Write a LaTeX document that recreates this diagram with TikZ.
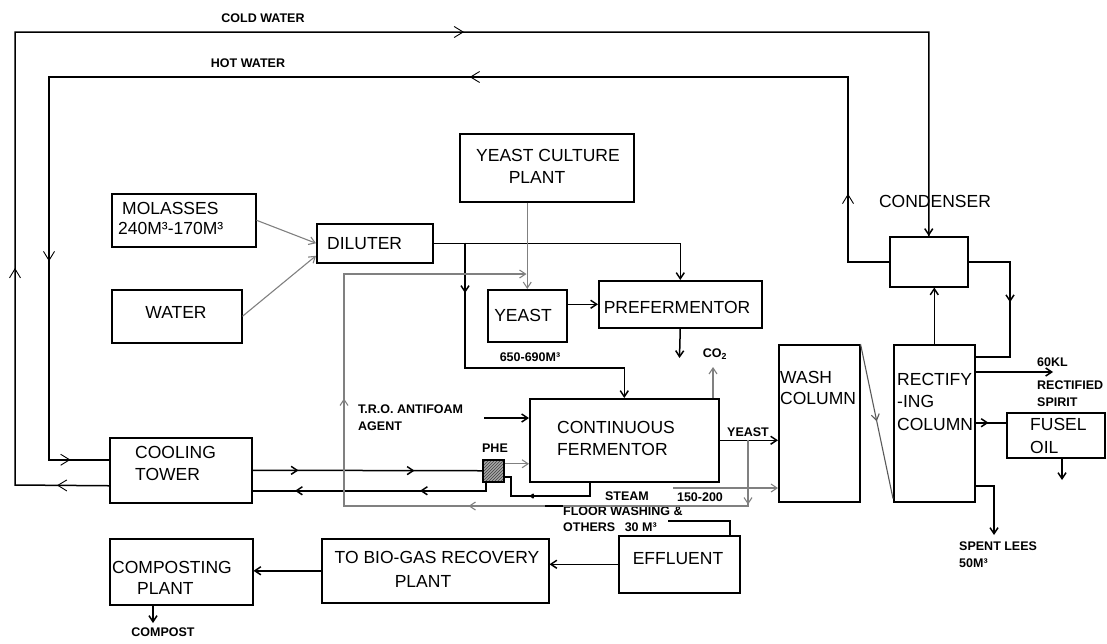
\documentclass[tikz,border=0pt]{standalone}
\usepackage{fontspec}
\setmainfont{Liberation Sans}
\usetikzlibrary{arrows.meta,decorations.markings,patterns,calc}
\begin{document}
\begin{tikzpicture}[x=1pt,y=-1pt,
  >={Straight Barb[length=6pt,width=8pt]},
  box/.style={draw=black,line width=1.5pt,inner sep=0pt,anchor=north west,fill=white},
  lb/.style={font=\fontsize{17.5}{21.5}\selectfont,inner sep=0pt,align=left,text=black},
  sm/.style={font=\fontsize{12.5}{16.5}\selectfont\bfseries,inner sep=0pt,align=left,text=black},
  blk/.style={draw=black,line width=1.5pt},
  gry/.style={draw=black!50,line width=1.1pt},
  mk/.style={postaction={decorate,decoration={markings,mark=at position #1 with {\arrow{>}}}}},
  mks/.style={postaction={decorate,decoration={markings,mark=at position #1 with {\arrow{Straight Barb[length=3pt,width=4pt]}}}}},
  mkb/.style={postaction={decorate,decoration={markings,mark=at position #1 with {\arrow{Straight Barb[length=9pt,width=11pt,line width=0.9pt]}}}}},
]
\useasboundingbox (0,0) rectangle (1107,643);

% boxes
\node[box,minimum width=144pt,minimum height=53pt] (mol) at (111,193) {};
\node[box,minimum width=130pt,minimum height=53pt] (wat) at (111,289) {};
\node[box,minimum width=116pt,minimum height=39pt] (dil) at (316,223) {};
\node[box,minimum width=174pt,minimum height=68pt] (ycp) at (459,133) {};
\node[box,minimum width=79pt,minimum height=52pt] (yst) at (487,289) {};
\node[box,minimum width=163pt,minimum height=47pt] (pre) at (598,280) {};
\node[box,minimum width=78pt,minimum height=50pt] (cnd) at (889,236) {};
\node[box,minimum width=81pt,minimum height=157pt] (wash) at (778,344) {};
\node[box,minimum width=81pt,minimum height=157pt] (rect) at (893,344) {};
\node[box,minimum width=98pt,minimum height=45pt] (fus) at (1006,412) {};
\node[box,minimum width=189pt,minimum height=83pt] (ferm) at (529,398) {};
\node[box,minimum width=142pt,minimum height=65pt] (cool) at (109,437) {};
\node[draw=black,line width=1.5pt,inner sep=0pt,anchor=north west,minimum width=21pt,minimum height=22pt,
      preaction={fill=black!35},pattern=north east lines,pattern color=black!75] (phe) at (482,459) {};
\node[box,minimum width=121pt,minimum height=57pt] (eff) at (618,535) {};
\node[box,minimum width=227pt,minimum height=64pt] (bio) at (321,538) {};
\node[box,minimum width=143pt,minimum height=66pt] (comp) at (109,538) {};

% labels
\node[sm] (lcw) at (263,18) {COLD WATER};
\node[sm] (lhw) at (248,63) {HOT WATER};
\node[lb] (lcnd) at (935,201) {CONDENSER};
\node[lb,anchor=west] (lmolA) at (122,208) {MOLASSES};
\node[lb,anchor=west] (lmolB) at (118,228) {240M³-170M³};
\node[lb] (lwat) at (176,312) {WATER};
\node[lb,anchor=west] (ldil) at (327,244) {DILUTER};
\node[lb] (lycpA) at (548,155) {YEAST CULTURE};
\node[lb] (lycpB) at (537,177) {PLANT};
\node[lb] (lyst) at (523,315) {YEAST};
\node[lb] (lpre) at (677,307) {PREFERMENTOR};
\node[sm] (l650) at (530,357) {650-690M³};
\node[sm] (lco2) at (715,354) {CO\textsubscript{2}};
\node[lb,anchor=west,font=\fontsize{17.5}{21}\selectfont] (lwash) at (780,387.5) {WASH\\COLUMN};
\node[lb,anchor=west,font=\fontsize{17.5}{22.5}\selectfont] (lrect) at (897,401.5) {RECTIFY\\-ING\\COLUMN};
\node[sm,anchor=west] (l60) at (1037,362) {60KL};
\node[sm,anchor=west] (lrs) at (1037,393.5) {RECTIFIED\\SPIRIT};
\node[lb,anchor=west,font=\fontsize{17.5}{23}\selectfont] (lfus) at (1030,435.5) {FUSEL\\OIL};
\node[sm,anchor=west] (ltro) at (358,417.5) {T.R.O. ANTIFOAM\\AGENT};
\node[lb,anchor=west] (lferm) at (557,438.5) {CONTINUOUS\\FERMENTOR};
\node[sm] (lyk) at (748,432) {YEAST};
\node[sm] (lphe) at (495,448) {PHE};
\node[lb,anchor=west,font=\fontsize{17.5}{22}\selectfont] (lcool) at (135,463) {COOLING\\TOWER};
\node[sm] (lsteam) at (627,496) {STEAM};
\node[sm] (l150) at (700,497) {150-200};
\node[sm,anchor=west] (lfw) at (563,519) {FLOOR WASHING \&\\OTHERS\hspace{6pt} 30 M³};
\node[sm,anchor=west] (lsl) at (959,554.5) {SPENT LEES\\50M³};
\node[lb] (leff) at (678,559) {EFFLUENT};
\node[lb] (lbioA) at (437,557) {TO BIO-GAS RECOVERY};
\node[lb] (lbioB) at (423,581) {PLANT};
\node[lb,anchor=west] (lcompA) at (112,567) {COMPOSTING};
\node[lb,anchor=west] (lcompB) at (137,588) {PLANT};
\node[sm] (lcompost) at (163,632) {COMPOST};

% cold water loop
\coordinate (cwA) at (15,485);
\coordinate (cwB) at (15,32);
\draw[blk,mkb=52pt,mkb=311pt,mkb=996pt,mk=1] ([yshift=-15.5pt]cool.west) -- (cwA) -- (cwB) -| (cnd.north);
% hot water loop
\coordinate (hwA) at (848,77);
\coordinate (hwB) at (49,77);
\draw[blk,mkb=109pt,mkb=604pt,mkb=1209pt,mkb=1429pt] (cnd.west) -| (hwA) -- (hwB) |- ([yshift=10.5pt]cool.west);

% feeds to diluter
\draw[gry,->] (mol.east) -- (dil.west);
\draw[gry,->] (wat.east) -- ([yshift=-12.5pt]dil.west);

% diluter outputs
\draw[blk,->] (dil.east) -| (pre.north);
\coordinate (br) at (465,242.5);
\coordinate (k650) at (465,368);
\draw[blk,->,mk=50.5pt] (br) -- (k650) -| (ferm.north);

% yeast
\draw[gry,->] (ycp.south -| yst.north) -- (yst.north);
\draw[blk,->] (yst.east |- pre.west) -- (pre.west);
\coordinate (pd) at (679.5,358);
\draw[blk,->] (pre.south) -- (pd);
\coordinate (co) at (713,367);
\draw[gry,->] (co |- ferm.north) -- (co);
\coordinate (tro) at (484,418);
\draw[blk,->] (tro) -- (tro -| ferm.west);
\coordinate (pheA) at ([yshift=7pt]phe.east);
\draw[gry,->] (pheA) -- (pheA -| ferm.west);

% cooling tower and PHE
\draw[blk,mk=46pt,mk=162pt] (cool.east) -- (phe.west);
\coordinate (pheB) at ([xshift=-7.5pt]phe.south);
\coordinate (coolB) at ([yshift=-20.5pt]cool.east);
\draw[blk,mk=74pt,mk=199pt] (pheB) |- (coolB);
\coordinate (fB) at ([xshift=-34.5pt]ferm.south);
\coordinate (pheC) at ([yshift=-6pt]phe.east);
\coordinate (rc) at (511,496);
\draw[blk,mks=74pt] (fB) |- (rc) |- (pheC);

% yeast out and recycle
\draw[blk,->] (ferm.east) -- (ferm.east -| wash.west);
\coordinate (yk) at (748,439.5);
\coordinate (g0) at (748,506);
\coordinate (g1) at (344,506);
\coordinate (g2) at (344,274);
\coordinate (g3) at (526.5,274);
\draw[gry,->,mk=65pt,mk=346pt,mk=578pt] (yk) -- (g0) -- (g1) -- (g2) -- (g3);
\coordinate (s150) at (673,488);
\draw[gry,->] (s150) -- (s150 -| wash.west);
\coordinate (fwa) at (545,506);
\coordinate (fwb) at (563,506);
\draw[blk] (fwa) -- (fwb);

% columns and condenser
\draw[draw=black!65,line width=1.1pt,mk=0.5] (wash.north east) -- ([yshift=4pt]rect.south west);
\draw[blk,->] (rect.north) -- (rect.north |- cnd.south);
\coordinate (c1) at (1010,357);
\draw[blk,mk=82pt] (cnd.east) -| (c1) -- (c1 -| rect.east);
\coordinate (k60) at (1053,372);
\draw[blk,->] (k60 -| rect.east) -- (k60);
\coordinate (fk) at ([yshift=12.5pt]fus.west);
\draw[blk,mk=13pt] (fk -| rect.east) -- (fk);
\coordinate (fd) at (1062,480);
\draw[blk,->] (fd |- fus.south) -- (fd);
\coordinate (sl) at (994,535);
\draw[blk,->] ([yshift=-62.5pt]rect.east) -| (sl);

% effluent
\coordinate (fw) at (668,521);
\draw[blk] (fw) -| ([xshift=50.5pt]eff.north);
\draw[blk,->] (eff.west) -- (eff.west -| bio.east);
\draw[blk,->] (bio.west) -- (bio.west -| comp.east);
\coordinate (cp) at (153,623);
\draw[blk,->] (cp |- comp.south) -- (cp);
\end{tikzpicture}
\end{document}
